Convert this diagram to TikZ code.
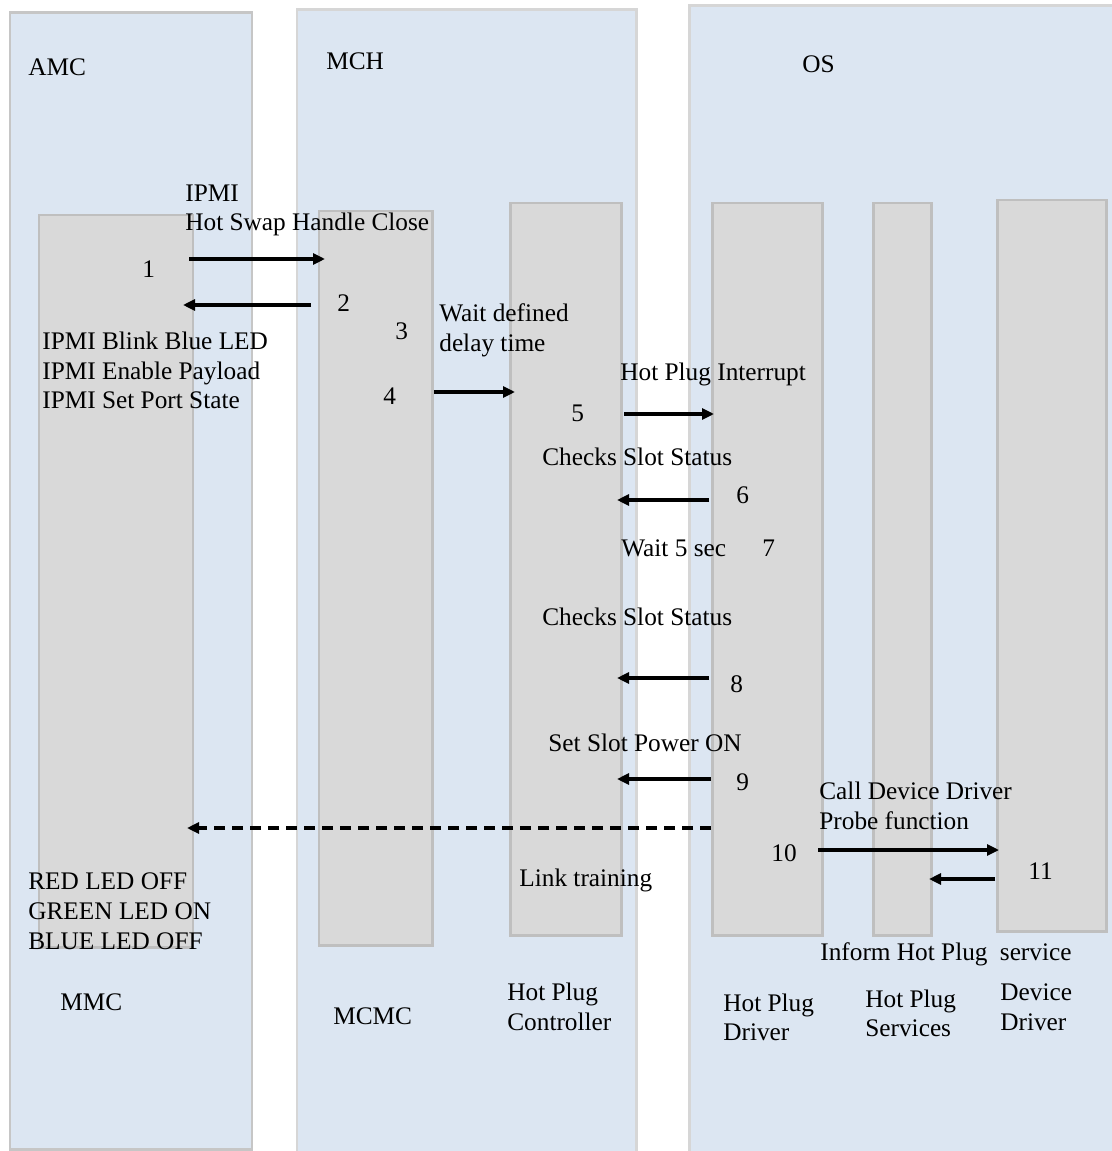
\documentclass[tikz,border=0pt]{standalone}
\usepackage{fontspec}
\setmainfont{Liberation Serif}
\usetikzlibrary{arrows.meta}
\definecolor{panelfill}{HTML}{DCE6F2}
\definecolor{panelline}{HTML}{C6C6C6}
\definecolor{panellight}{HTML}{D6D6D6}
\definecolor{boxfill}{HTML}{D9D9D9}
\definecolor{boxline}{HTML}{BFBFBF}
\begin{document}
\begin{tikzpicture}[x=0.02cm,y=-0.02cm,
  panel/.style={fill=panelfill,draw=panelline,line width=1.7pt},
  panelpale/.style={fill=panelfill,draw=panellight,line width=1.7pt},
  lifeline/.style={fill=boxfill,draw=boxline,line width=1.7pt},
  lbl/.style={anchor=base west,inner sep=0pt,font=\fontsize{14.4}{17}\selectfont},
  msg/.style={line width=1.8pt,-{Triangle[length=0.24cm,width=0.22cm]}},
  dmsg/.style={msg,dash pattern=on 0.23cm off 0.13cm}]
\useasboundingbox (0,0) rectangle (1111,1151);
% outer panels
\path[panel] (10,13) rectangle (252,1149);
\path[panelpale] (297,10) rectangle (636,1170);
\path[panelpale] (689,6) rectangle (1130,1170);
% lifelines
\path[lifeline] (39,215) rectangle (193,947);
\path[lifeline] (319,211) rectangle (432,945);
\path[lifeline] (510,203) rectangle (621,935);
\path[lifeline] (712,203) rectangle (822,935);
\path[lifeline] (873,203) rectangle (931,935);
\path[lifeline] (997,200) rectangle (1106,931);
% group titles
\node[lbl] (tamc) at (28,76) {AMC};
\node[lbl] (tmch) at (326,70) {MCH};
\node[lbl] (tos) at (802,73) {OS};
% message labels
\node[lbl] (l1a) at (185,202) {IPMI};
\node[lbl] (l1b) at (185,231) {Hot Swap Handle Close};
\node[lbl] (n1) at (142,278) {1};
\node[lbl] (n2) at (337,312) {2};
\node[lbl] (n3) at (395,340) {3};
\node[lbl] (l3a) at (439,322) {Wait defined};
\node[lbl] (l3b) at (439,352) {delay time};
\node[lbl] (l2a) at (42,350) {IPMI Blink Blue LED};
\node[lbl] (l2b) at (42,380) {IPMI Enable Payload};
\node[lbl] (l2c) at (42,409) {IPMI Set Port State};
\node[lbl] (n4) at (383,405) {4};
\node[lbl] (l5) at (620,381) {Hot Plug Interrupt};
\node[lbl] (n5) at (571,421) {5};
\node[lbl] (l6) at (542,465) {Checks Slot Status};
\node[lbl] (n6) at (736,503) {6};
\node[lbl] (l7) at (621,556) {Wait 5 sec};
\node[lbl] (n7) at (762,556) {7};
\node[lbl] (l8) at (542,625) {Checks Slot Status};
\node[lbl] (n8) at (730,692) {8};
\node[lbl] (l9) at (548,751) {Set Slot Power ON};
\node[lbl] (n9) at (736,790) {9};
\node[lbl] (l10a) at (819,799) {Call Device Driver};
\node[lbl] (l10b) at (819,829) {Probe function};
\node[lbl] (n10) at (771,861) {10};
\node[lbl] (n11) at (1028,879) {11};
\node[lbl] (llink) at (519,886) {Link training};
\node[lbl] (led1) at (28,889) {RED LED OFF};
\node[lbl] (led2) at (28,919) {GREEN LED ON};
\node[lbl] (led3) at (28,949) {BLUE LED OFF};
\node[lbl] (l11) at (820,960) {Inform Hot Plug\hspace{7pt}service};
% lifeline names
\node[lbl] (mmc) at (60,1010) {MMC};
\node[lbl] (mcmc) at (333,1024) {MCMC};
\node[lbl] (hpc1) at (507,1000) {Hot Plug};
\node[lbl] (hpc2) at (507,1030) {Controller};
\node[lbl] (hpd1) at (723,1011) {Hot Plug};
\node[lbl] (hpd2) at (723,1040) {Driver};
\node[lbl] (hps1) at (865,1007) {Hot Plug};
\node[lbl] (hps2) at (865,1036) {Services};
\node[lbl] (dd1) at (1000,1000) {Device};
\node[lbl] (dd2) at (1000,1030) {Driver};
% arrow end points
\coordinate (a1s) at (189,259); \coordinate (a1e) at (325,259);
\coordinate (a2s) at (311,305); \coordinate (a2e) at (183,305);
\coordinate (a4s) at (434,392); \coordinate (a4e) at (515,392);
\coordinate (a5s) at (624,414); \coordinate (a5e) at (714,414);
\coordinate (a6s) at (709,500); \coordinate (a6e) at (617,500);
\coordinate (a8s) at (709,678); \coordinate (a8e) at (617,678);
\coordinate (a9s) at (711,779); \coordinate (a9e) at (617,779);
\coordinate (ads) at (711,828); \coordinate (ade) at (187,828);
\coordinate (a10s) at (818,850); \coordinate (a10e) at (999,850);
\coordinate (a11s) at (995,879); \coordinate (a11e) at (929,879);
\draw[msg] (a1s) -- (a1e);
\draw[msg] (a2s) -- (a2e);
\draw[msg] (a4s) -- (a4e);
\draw[msg] (a5s) -- (a5e);
\draw[msg] (a6s) -- (a6e);
\draw[msg] (a8s) -- (a8e);
\draw[msg] (a9s) -- (a9e);
\draw[dmsg] (ads) -- (ade);
\draw[msg] (a10s) -- (a10e);
\draw[msg] (a11s) -- (a11e);
\end{tikzpicture}
\end{document}
